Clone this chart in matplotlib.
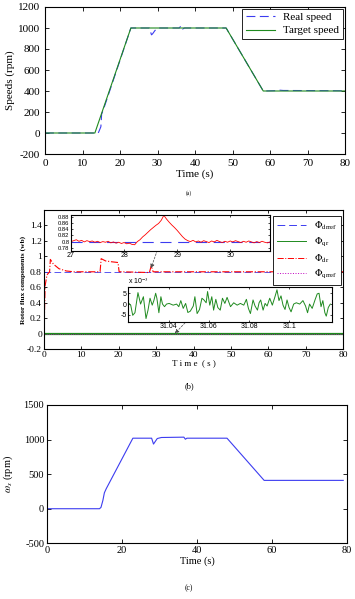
import matplotlib
matplotlib.use("Agg")
import matplotlib.pyplot as plt
from matplotlib.lines import Line2D

plt.rcParams['font.family'] = ['Liberation Serif', 'DejaVu Serif']
plt.rcParams['mathtext.fontset'] = 'stix'
plt.rcParams['axes.unicode_minus'] = False
plt.rcParams['xtick.direction'] = 'in'
plt.rcParams['ytick.direction'] = 'in'
plt.rcParams['xtick.top'] = True
plt.rcParams['ytick.right'] = True

# ---------------- data (a) ----------------
t_target = [0, 13.3, 22.9, 48.3, 58.2, 80]
speed_target = [0, 0, 1000, 1000, 400, 400]
t_real = [0, 14.2, 14.5, 14.9, 15.1, 15.5, 22.9, 27.8, 28.4, 28.7, 29.3, 30.0,
          35.8, 36.3, 36.7, 37.2, 48.3, 58.2, 61.5, 62.5, 63.5, 70, 79.5]
speed_real = [0, 0, 25, 60, 180, 215, 1000, 1000, 935, 945, 975, 1000,
              1000, 1022, 990, 1000, 1000, 400, 403, 408, 405, 404, 402]

# ---------------- data (b) ----------------
t_flux_ref = [0, 80]
phi_drref = [0.8, 0.8]
phi_qrref = [0, 0]
t_qr = [0, 80]
phi_qr = [0, 0]
t_dr = [0, 0.3, 0.8, 1.5, 1.7, 2.5, 4, 6, 8, 10, 15.0, 15.3, 16.5, 18, 19.8,
        20.1, 21, 28.2, 28.7, 29.2, 80]
phi_dr = [0, 0.62, 0.76, 0.80, 0.96, 0.90, 0.84, 0.81, 0.80, 0.80, 0.80, 0.97,
          0.94, 0.93, 0.92, 0.80, 0.80, 0.79, 0.88, 0.80, 0.80]

# zoom 1 (Phi_dr around 27-30.7 s)
t_zoom1 = [27.00, 27.05, 27.10, 27.15, 27.20, 27.25, 27.30, 27.35, 27.40, 27.45,
           27.50, 27.55, 27.60, 27.65, 27.70, 27.75, 27.80, 27.85, 27.90, 27.95,
           28.00, 28.05, 28.10, 28.15, 28.20, 28.25, 28.30, 28.35, 28.40, 28.45,
           28.50, 28.55, 28.60, 28.65, 28.70, 28.75, 28.80, 28.85, 28.90, 28.95,
           29.00, 29.05, 29.10, 29.15, 29.20, 29.25, 29.30, 29.35, 29.40, 29.45,
           29.50, 29.55, 29.60, 29.65, 29.70, 29.75, 29.80, 29.85, 29.90, 29.95,
           30.00, 30.05, 30.10, 30.15, 30.20, 30.25, 30.30, 30.35, 30.40, 30.45,
           30.50, 30.55, 30.60, 30.65, 30.70, 30.75]
phi_dr_zoom1 = [0.800, 0.803, 0.806, 0.801, 0.804, 0.799, 0.803, 0.800, 0.802, 0.798,
                0.801, 0.797, 0.800, 0.798, 0.801, 0.796, 0.799, 0.795, 0.798, 0.794,
                0.797, 0.793, 0.795, 0.791, 0.790, 0.800, 0.806, 0.815, 0.822, 0.830,
                0.838, 0.845, 0.852, 0.858, 0.868, 0.884, 0.872, 0.862, 0.853, 0.845,
                0.836, 0.826, 0.816, 0.808, 0.803, 0.800, 0.804, 0.799, 0.802, 0.798,
                0.803, 0.800, 0.797, 0.802, 0.799, 0.804, 0.800, 0.797, 0.801, 0.798,
                0.802, 0.799, 0.803, 0.800, 0.797, 0.801, 0.798, 0.802, 0.799, 0.796,
                0.800, 0.797, 0.801, 0.798, 0.796, 0.799]
t_zoom1_ref = [27.0, 30.75]
phi_drref_zoom1 = [0.8, 0.8]

# zoom 2 (Phi_qr around 31.02-31.12 s, values x 1e-3)
t_zoom2 = [31.0200, 31.0212, 31.0222, 31.0233, 31.0248, 31.0261, 31.0275, 31.0288,
           31.0298, 31.0308, 31.0319, 31.0327, 31.0336, 31.0342, 31.0352, 31.0362,
           31.0370, 31.0380, 31.0390, 31.0403, 31.0423, 31.0440, 31.0451, 31.0461,
           31.0473, 31.0485, 31.0496, 31.0508, 31.0523, 31.0531, 31.0542, 31.0554,
           31.0566, 31.0576, 31.0587, 31.0594, 31.0605, 31.0615, 31.0624, 31.0635,
           31.0645, 31.0657, 31.0668, 31.0680, 31.0691, 31.0708, 31.0724, 31.0741,
           31.0757, 31.0774, 31.0787, 31.0797, 31.0807, 31.0820, 31.0830, 31.0842,
           31.0850, 31.0858, 31.0870, 31.0880, 31.0890, 31.0903, 31.0916, 31.0929,
           31.0939, 31.0949, 31.0959, 31.0969, 31.0979, 31.0989, 31.0999, 31.1009,
           31.1022, 31.1035, 31.1052, 31.1068, 31.1081, 31.1091, 31.1101, 31.1114,
           31.1128, 31.1139, 31.1148, 31.1158, 31.1167, 31.1177, 31.1184, 31.1194,
           31.1204]
phi_qr_zoom2 = [0.6, -0.5, -5.2, -4.0, 5.3, 0.0, 3.4, -6.7, -2.8, 2.7, -0.5, 1.6,
                5.0, 2.7, -4.0, 3.4, 0.0, -1.2, 0.0, 0.3, -0.5, 0.0, -1.2, 1.6,
                -2.0, 0.3, -3.9, -3.3, -0.9, 3.4, -4.4, -2.5, 2.7, 1.9, 0.6, 5.8,
                -0.5, 3.4, -2.8, 2.2, -1.6, -2.8, 2.7, 0.3, 3.1, -1.2, 0.6, -0.5,
                0.3, -0.5, 2.2, -2.0, -4.4, 1.9, -0.9, -2.8, 0.6, 1.9, -2.8, 0.3,
                -0.9, 2.7, -0.5, 3.4, 6.6, 1.6, 3.8, -0.5, -2.5, 1.9, -1.6, -3.6,
                0.0, 0.6, 0.0, 1.6, -0.9, -4.0, 0.0, -2.0, 1.9, 4.7, 5.0, -1.2,
                1.6, -4.0, -5.6, -1.6, 0.0]

# ---------------- data (c) ----------------
t_ws = [0, 14.0, 14.4, 14.9, 15.3, 15.8, 22.9, 27.9, 28.4, 28.9, 29.4, 30.5,
        36.5, 36.9, 37.3, 48.0, 57.9, 79]
ws = [0, 0, 20, 120, 230, 290, 1020, 1020, 935, 975, 1015, 1030,
      1035, 1005, 1020, 1020, 410, 410]

W, H = 355, 599
fig = plt.figure(figsize=(W / 100, H / 100), dpi=100)

def box(l, t, r, b):
    return [l / W, 1 - b / H, (r - l) / W, (b - t) / H]

blue = '#3c3cf0'
green = '#1f8a1f'

# ---------------- panel (a) ----------------
axa = fig.add_axes(box(45, 7, 345, 154))
axa.plot(t_real, speed_real, color=blue, lw=0.8, dashes=(8, 4), label='Real speed')
axa.plot(t_target, speed_target, color=green, lw=0.8, label='Target speed')
axa.set_xlim(0, 80)
axa.set_ylim(-200, 1200)
axa.set_xticks(range(0, 81, 10))
axa.set_yticks(range(-200, 1201, 200))
axa.tick_params(labelsize=8, length=3, width=0.6)
axa.set_xlabel('Time (s)', fontsize=8, labelpad=1)
axa.set_ylabel('Speeds (rpm)', fontsize=8, labelpad=2)
axa.legend(loc='upper right', fontsize=8, frameon=True, fancybox=False,
           edgecolor='k', handlelength=2.6, borderpad=0.3, labelspacing=0.3,
           borderaxespad=0.2, framealpha=1).get_frame().set_linewidth(0.6)
fig.text(189 / W, 1 - 193 / H, '(a)', fontsize=4, ha='center', va='center')

# ---------------- panel (b) ----------------
axb = fig.add_axes(box(44, 210, 343, 349))
axb.plot(t_flux_ref, phi_drref, color=blue, lw=0.6, dashes=(8, 4))
axb.plot(t_qr, phi_qr, color=green, lw=1.6)
axb.plot(t_flux_ref, phi_qrref, color='m', lw=0.6, ls=':')
axb.plot(t_dr, phi_dr, color='r', lw=0.8, ls='-.')
axb.set_xlim(0, 80)
axb.set_ylim(-0.2, 1.6)
axb.set_xticks(range(0, 81, 10))
axb.set_yticks([-0.2, 0, 0.2, 0.4, 0.6, 0.8, 1.0, 1.2, 1.4])
axb.set_yticklabels(['-0.2', '0', '0.2', '0.4', '0.6', '0.8', '1', '1.2', '1.4'])
axb.tick_params(labelsize=6.8, length=2.5, width=0.6, pad=1.5)
axb.set_xlabel('T i m e  ( s )', fontsize=6.5, labelpad=0)
axb.set_ylabel('Rotor flux components (wb)', fontsize=5.3, fontweight='bold', labelpad=1)
handles = [
    Line2D([], [], color=blue, lw=0.7, dashes=(8, 4), label=r'$\Phi_{\mathrm{drref}}$'),
    Line2D([], [], color=green, lw=0.7, label=r'$\Phi_{\mathrm{qr}}$'),
    Line2D([], [], color='r', lw=0.7, ls='-.', label=r'$\Phi_{\mathrm{dr}}$'),
    Line2D([], [], color='m', lw=0.7, ls=':', label=r'$\Phi_{\mathrm{qrref}}$'),
]
leg = fig.legend(handles=handles, loc='upper right',
                 bbox_to_anchor=(346 / W, 1 - 211 / H), fontsize=7, frameon=True,
                 fancybox=False, edgecolor='k', handlelength=3.0, borderpad=0.4,
                 labelspacing=0.35, framealpha=1)
leg.get_frame().set_linewidth(0.6)
fig.text(189 / W, 1 - 386 / H, '(b)', fontsize=6, ha='center', va='center')

# inset 1
ai1 = fig.add_axes(box(71, 215, 270, 251))
ai1.plot(t_zoom1_ref, phi_drref_zoom1, color=blue, lw=0.8, dashes=(10, 6))
ai1.plot(t_zoom1, phi_dr_zoom1, color='r', lw=0.6)
ai1.set_xlim(27, 30.75)
ai1.set_ylim(0.77, 0.885)
ai1.set_xticks([27, 28, 29, 30])
ai1.set_yticks([0.78, 0.8, 0.82, 0.84, 0.86, 0.88])
ai1.set_yticklabels(['0.78', '0.8', '0.82', '0.84', '0.86', '0.88'])
ai1.tick_params(length=1.5, width=0.5, pad=1)
for lab in ai1.get_xticklabels():
    lab.set_fontsize(5)
    lab.set_family('Liberation Sans')
for lab in ai1.get_yticklabels():
    lab.set_fontsize(4.2)
    lab.set_family('Liberation Sans')

# inset 2
ai2 = fig.add_axes(box(128.3, 287, 331.5, 322))
ai2.plot(t_zoom2, phi_qr_zoom2, color=green, lw=0.7)
ai2.set_xlim(31.020, 31.121)
ai2.set_ylim(-8.3, 7.9)
ai2.set_xticks([31.04, 31.06, 31.08, 31.1])
ai2.set_xticklabels(['31.04', '31.06', '31.08', '31.1'])
ai2.set_yticks([-5, 0, 5])
ai2.tick_params(length=1.5, width=0.5, pad=1)
for lab in ai2.get_xticklabels() + ai2.get_yticklabels():
    lab.set_fontsize(5)
    lab.set_family('Liberation Sans')
ai2.text(0.0, 1.04, r'x 10$^{-3}$', transform=ai2.transAxes, fontsize=5,
         family='Liberation Sans', ha='left', va='bottom')

# arrows
axb.annotate('', xy=(28.6, 0.845), xycoords='data',
             xytext=(28.78, 0.845), textcoords=ai1.transData,
             arrowprops=dict(arrowstyle='-|>', ls=(0, (3, 2)), color='0.3', lw=0.5,
                             mutation_scale=6, shrinkA=0, shrinkB=0))
axb.annotate('', xy=(35.0, 0.0), xycoords='data',
             xytext=(31.053, -4.0), textcoords=ai2.transData,
             arrowprops=dict(arrowstyle='-|>', ls=(0, (3, 2)), color='0.3', lw=0.5,
                             mutation_scale=6, shrinkA=0, shrinkB=0))

# ---------------- panel (c) ----------------
axc = fig.add_axes(box(47, 405, 347, 543.3))
axc.plot(t_ws, ws, color=blue, lw=0.8)
axc.set_xlim(0, 80)
axc.set_ylim(-500, 1500)
axc.set_xticks(range(0, 81, 20))
axc.set_yticks(range(-500, 1501, 500))
axc.tick_params(labelsize=7.5, length=3, width=0.6, pad=2)
axc.set_xlabel('Time (s)', fontsize=7.5, labelpad=1)
axc.set_ylabel(r'$\omega_{s}$ (rpm)', fontsize=7.5, labelpad=6)
fig.text(189 / W, 1 - 588 / H, '(c)', fontsize=5.5, ha='center', va='center')

for ax in (axa, axb, axc, ai1, ai2):
    for s in ax.spines.values():
        s.set_linewidth(0.8)

fig.savefig('out.png', dpi=100)
